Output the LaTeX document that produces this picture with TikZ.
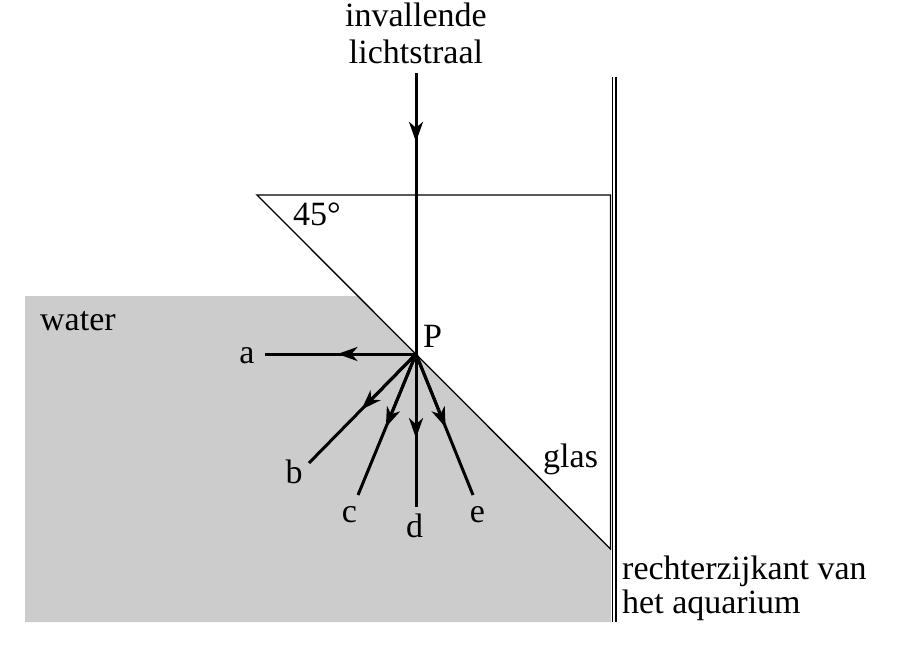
\documentclass[tikz,border=0pt]{standalone}
\usepackage{fontspec}
\setmainfont{Liberation Serif}
\usetikzlibrary{arrows.meta,calc}
\definecolor{waterfill}{HTML}{CCCCCC}
\begin{document}
\begin{tikzpicture}[x=1pt,y=-1pt,
  font=\fontsize{34}{37}\selectfont,
  ray/.style={line width=3pt},
  rayhead/.style={line width=3pt, -{Stealth[length=20pt,width=14pt,inset=6pt]}},
  glassline/.style={line width=1.3pt},
  lbl/.style={inner sep=0pt, anchor=base},
  lblw/.style={inner sep=0pt, anchor=base west}]
\useasboundingbox (0,0) rectangle (897,649);
% water
\fill[waterfill] (25,296) -- (358,296) -- (611,549) -- (611,622) -- (25,622) -- cycle;
% glass prism
\coordinate (T1) at (257,195);
\coordinate (T2) at (610.5,195);
\coordinate (T3) at (610.5,549);
\draw[glassline, line join=miter] (T1) -- (T2) -- (T3) -- cycle;
% aquarium wall
\coordinate (W1t) at (612.5,77);
\coordinate (W1b) at (612.5,622);
\coordinate (W2t) at (616,77);
\coordinate (W2b) at (616,622);
\draw[glassline] (W1t) -- (W1b);
\draw[glassline] (W2t) -- (W2b);
% rays
\coordinate (P) at (416,354);
\coordinate (src) at (416,73);
\coordinate (ea) at (265,354);
\coordinate (eb) at (309,463);
\coordinate (ec) at (358,495);
\coordinate (ed) at (416,507);
\coordinate (ee) at (473,495);
\draw[ray] (src) -- (P);
\draw[rayhead] (src) -- ($(src)!0.245!(P)$);
\foreach \e/\p in {ea/0.52, eb/0.51, ec/0.52, ed/0.55, ee/0.52}{
  \draw[ray] (P) -- (\e);
  \draw[rayhead] (P) -- ($(P)!\p!(\e)$);
}
% labels
\node[lbl] (l1) at (416,26) {invallende};
\node[lbl] (l2) at (416,63) {lichtstraal};
\node[lblw] (ang) at (293,225) {45°};
\node[lblw] (wat) at (40,330) {water};
\node[lblw] (lP) at (423,347) {P};
\node[lbl] (la) at (247,363) {a};
\node[lbl] (lb) at (294,483) {b};
\node[lbl] (lc) at (349.5,522) {c};
\node[lbl] (ld) at (414.5,537) {d};
\node[lbl] (le) at (477.5,522) {e};
\node[lblw] (gl) at (543,467) {glas};
\node[lblw] (r1) at (622,579) {rechterzijkant van};
\node[lblw] (r2) at (622,613) {het aquarium};
\end{tikzpicture}
\end{document}
